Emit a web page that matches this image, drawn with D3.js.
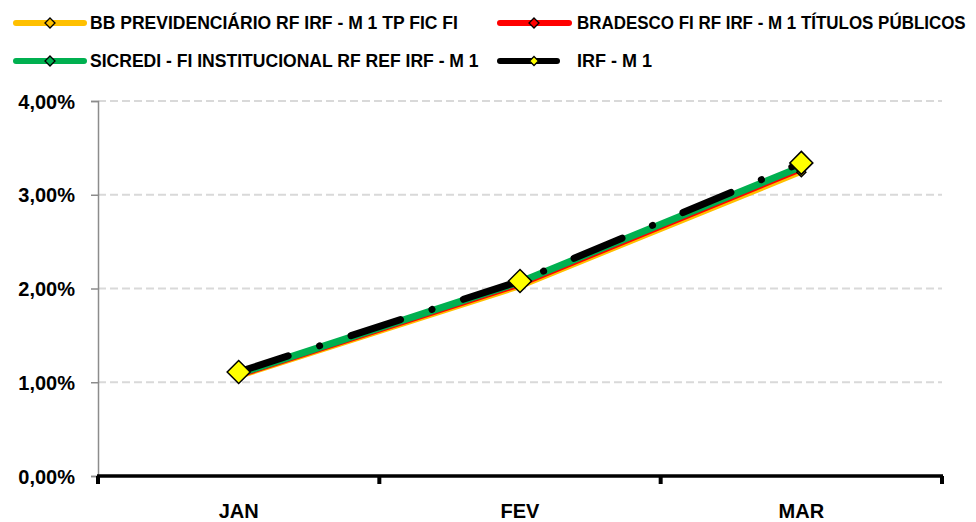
<!DOCTYPE html>
<html>
<head>
<meta charset="utf-8">
<script src="https://cdnjs.cloudflare.com/ajax/libs/d3/7.8.5/d3.min.js"></script>
<style>
  body { margin: 0; background: #fff; }
  svg text { font-family: "Liberation Sans", Arial, sans-serif; font-weight: bold; fill: #000; }
</style>
</head>
<body>
<div id="chart"></div>
<script>
var months = ["JAN", "FEV", "MAR"];
var seriesNames = [
    "BB PREVIDENCIÁRIO RF IRF - M 1 TP FIC FI",
    "BRADESCO FI RF IRF - M 1 TÍTULOS PÚBLICOS",
    "SICREDI - FI INSTITUCIONAL RF REF IRF - M 1",
    "IRF - M 1"
];
// rentabilidade acumulada (%)
var bbValues       = [1.06, 2.02, 3.24];
var bradescoValues = [1.07, 2.04, 3.27];
var sicrediValues  = [1.09, 2.07, 3.30];
var irfValues      = [1.11, 2.08, 3.34];
var yTicks = [0, 1, 2, 3, 4];

var width = 976, height = 522;
var margin = {top: 101, right: 34, bottom: 46, left: 98};

var series = [
    {name: seriesNames[0], values: bbValues,       color: "#ffc000", width: 5, marker: 9,  markerFill: "#ffc000"},
    {name: seriesNames[1], values: bradescoValues, color: "#ff0000", width: 5, marker: 9,  markerFill: "#ff0000"},
    {name: seriesNames[2], values: sicrediValues,  color: "#00b050", width: 7, marker: 9,  markerFill: "#00b050"},
    {name: seriesNames[3], values: irfValues,      color: "#000000", width: 7, marker: 23, markerFill: "#ffff00", dash: "52,33,0.1,33"}
];

var svg = d3.select("#chart").append("svg")
    .attr("width", width)
    .attr("height", height);

var x = d3.scaleBand()
    .domain(months)
    .range([margin.left, width - margin.right]);

var y = d3.scaleLinear()
    .domain([0, 4])
    .range([height - margin.bottom, margin.top]);

var pct = d3.formatLocale({decimal: ",", thousands: ".", grouping: [3], currency: ["R$", ""]}).format(".2f");

// grid
svg.append("g")
    .selectAll("line")
    .data(yTicks.slice(1))
    .enter().append("line")
    .attr("x1", margin.left)
    .attr("x2", width - margin.right)
    .attr("y1", function(d) { return y(d); })
    .attr("y2", function(d) { return y(d); })
    .attr("stroke", "#d9d9d9")
    .attr("stroke-width", 2)
    .attr("stroke-dasharray", "8,4");

// y axis
var yAxis = svg.append("g")
    .attr("transform", "translate(" + margin.left + ",0)")
    .call(d3.axisLeft(y).tickValues(yTicks).tickSize(7).tickPadding(16)
        .tickFormat(function(d) { return pct(d) + "%"; }));
yAxis.select(".domain").attr("stroke", "#8c8c8c").attr("stroke-width", 1.5);
yAxis.selectAll(".tick line").attr("stroke", "#8c8c8c").attr("stroke-width", 1.5);
yAxis.selectAll(".tick text")
    .style("font-size", "20px")
    .attr("dy", "0.35em");

// x axis
var xEdges = months.map(function(m) { return x(m); }).concat([x.range()[1]]);
var xAxis = svg.append("g");
xAxis.append("line")
    .attr("x1", x.range()[0] - 1)
    .attr("x2", x.range()[1] + 1)
    .attr("y1", y(0))
    .attr("y2", y(0))
    .attr("stroke", "#000")
    .attr("stroke-width", 3.5);
xAxis.selectAll(".xtick")
    .data(xEdges)
    .enter().append("line")
    .attr("class", "xtick")
    .attr("x1", function(d) { return d; })
    .attr("x2", function(d) { return d; })
    .attr("y1", y(0))
    .attr("y2", y(0) + 8)
    .attr("stroke", "#000")
    .attr("stroke-width", 4);
xAxis.selectAll(".xlabel")
    .data(months)
    .enter().append("text")
    .attr("class", "xlabel")
    .attr("x", function(d) { return x(d) + x.bandwidth() / 2; })
    .attr("y", y(0) + 42)
    .attr("text-anchor", "middle")
    .style("font-size", "20px")
    .text(function(d) { return d; });

// series
var line = d3.line()
    .x(function(d, i) { return x(months[i]) + x.bandwidth() / 2; })
    .y(function(d) { return y(d); });

var diamond = function(s) {
    var h = s / 2;
    return "M0," + (-h) + "L" + h + ",0L0," + h + "L" + (-h) + ",0Z";
};

series.forEach(function(s) {
    svg.append("path")
        .attr("d", line(s.values))
        .attr("fill", "none")
        .attr("stroke", s.color)
        .attr("stroke-width", s.width)
        .attr("stroke-linecap", "round")
        .attr("stroke-linejoin", "round")
        .attr("stroke-dasharray", s.dash || null);
});

series.forEach(function(s) {
    svg.append("g").selectAll("path")
        .data(s.values)
        .enter().append("path")
        .attr("transform", function(d, i) {
            return "translate(" + (x(months[i]) + x.bandwidth() / 2) + "," + y(d) + ")";
        })
        .attr("d", diamond(s.marker))
        .attr("fill", s.markerFill)
        .attr("stroke", "#000")
        .attr("stroke-width", 1.5);
});

// legend
var legendPos = [
    {x: 13, y: 23, len: 74, tx: 90, tw: 368},
    {x: 497, y: 23, len: 75, tx: 577, tw: 389},
    {x: 13, y: 61, len: 74, tx: 90, tw: 389},
    {x: 497, y: 61, len: 63, tx: 577, tw: 76}
];

var legend = svg.append("g");
series.forEach(function(s, i) {
    var p = legendPos[i];
    var g = legend.append("g");
    g.append("line")
        .attr("x1", p.x + 3)
        .attr("x2", p.x + p.len - 3)
        .attr("y1", p.y)
        .attr("y2", p.y)
        .attr("stroke", s.color)
        .attr("stroke-width", 6)
        .attr("stroke-linecap", "round");
    g.append("path")
        .attr("transform", "translate(" + (p.x + 37) + "," + p.y + ")")
        .attr("d", diamond(i === 3 ? 9 : 10))
        .attr("fill", s.markerFill)
        .attr("stroke", "#000")
        .attr("stroke-width", 1.3);
    var t = g.append("text")
        .attr("x", 0)
        .attr("y", 0)
        .style("font-size", "18px")
        .text(s.name);
    // squeeze to the narrower original font
    var k = Math.min(1, p.tw / t.node().getComputedTextLength());
    t.attr("transform", "translate(" + p.tx + "," + (p.y + 5.5) + ") scale(" + k + ",1)");
});
</script>
</body>
</html>
